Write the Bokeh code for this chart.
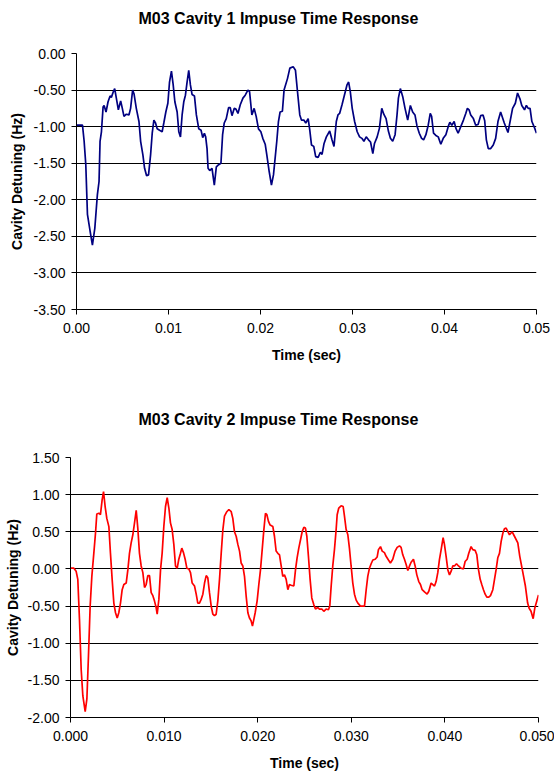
from bokeh.plotting import figure
from bokeh.models import FixedTicker, NumeralTickFormatter, Range1d, Title
from bokeh.embed import file_html
from bokeh.resources import INLINE

FONT = "Liberation Sans"

# ---------------- data ----------------
title1 = "M03 Cavity 1 Impuse Time Response"
title2 = "M03 Cavity 2 Impuse Time Response"
x_label = "Time (sec)"
y_label = "Cavity Detuning (Hz)"

x_ticks = [0.0, 0.01, 0.02, 0.03, 0.04, 0.05]
y_ticks1 = [0.0, -0.5, -1.0, -1.5, -2.0, -2.5, -3.0, -3.5]
y_ticks2 = [1.5, 1.0, 0.5, 0.0, -0.5, -1.0, -1.5, -2.0]

# cavity 1: time (ms), detuning (Hz)
t1_ms = [0, 0.65, 0.83, 1.01, 1.19, 1.48, 1.73, 1.99, 2.27, 2.45, 2.56, 2.71, 2.89, 3.00,
         3.21, 3.43, 3.65, 3.79, 4.01, 4.15, 4.33, 4.55, 4.80, 4.98, 5.16, 5.42, 5.70, 5.88,
         6.10, 6.25, 6.50, 6.79, 6.97, 7.22, 7.40, 7.62, 7.83, 8.05, 8.23, 8.41, 8.59, 8.77,
         9.03, 9.31, 9.49, 9.71, 9.93, 10.11, 10.32, 10.51, 10.69, 10.94, 11.12, 11.30, 11.48,
         11.66, 11.84, 12.02, 12.20, 12.38, 12.56, 12.82, 13.03, 13.29, 13.54, 13.72, 13.90,
         14.04, 14.19, 14.30, 14.48, 14.73, 14.98, 15.20, 15.45, 15.70, 15.88, 16.06, 16.28,
         16.53, 16.71, 16.90, 17.15, 17.33, 17.55, 17.80, 18.09, 18.34, 18.63, 18.81, 19.06,
         19.31, 19.53, 19.78, 20.04, 20.25, 20.51, 20.69, 20.94, 21.19, 21.41, 21.59, 21.77,
         21.95, 22.13, 22.38, 22.56, 22.94, 23.19, 23.55, 23.80, 24.02, 24.27, 24.45, 24.71,
         24.92, 25.18, 25.36, 25.54, 25.79, 26.00, 26.26, 26.51, 26.69, 26.91, 27.16, 27.52,
         27.77, 27.99, 28.24, 28.42, 28.60, 28.86, 29.14, 29.40, 29.58, 29.76, 29.97, 30.23,
         30.51, 30.77, 31.02, 31.24, 31.49, 31.74, 31.96, 32.21, 32.39, 32.68, 32.93, 33.18,
         33.40, 33.65, 33.90, 34.12, 34.37, 34.63, 34.84, 34.99, 35.20, 35.46, 35.71, 36.00,
         36.29, 36.54, 36.79, 37.01, 37.26, 37.51, 37.73, 37.98, 38.23, 38.45, 38.60, 38.81,
         39.06, 39.32, 39.60, 39.86, 40.15, 40.40, 40.58, 40.80, 41.05, 41.23, 41.48, 41.77,
         42.06, 42.31, 42.49, 42.67, 42.85, 43.14, 43.39, 43.65, 43.93, 44.19, 44.37, 44.55,
         44.76, 45.02, 45.30, 45.56, 45.81, 46.10, 46.50, 46.90, 47.40, 47.70, 47.94, 48.20,
         48.40, 48.70, 48.90, 49.10, 49.30, 49.50, 49.80, 50.00]
v1 = [-0.98, -0.98, -1.20, -1.52, -2.20, -2.43, -2.62, -2.39, -1.93, -1.75, -1.20, -1.07, -0.73, -0.71,
      -0.80, -0.66, -0.58, -0.60, -0.52, -0.48, -0.61, -0.77, -0.65, -0.75, -0.86, -0.83, -0.84, -0.75,
      -0.50, -0.55, -0.75, -0.93, -1.20, -1.39, -1.57, -1.67, -1.66, -1.39, -1.09, -0.91, -0.95, -1.03,
      -1.05, -1.07, -0.95, -0.80, -0.68, -0.39, -0.24, -0.43, -0.66, -0.80, -1.07, -1.14, -0.84,
      -0.66, -0.57, -0.39, -0.23, -0.43, -0.56, -0.58, -0.84, -1.03, -1.05, -1.15, -1.09,
      -1.14, -1.30, -1.57, -1.60, -1.57, -1.80, -1.55, -1.52, -1.50, -1.11, -0.95, -0.89,
      -0.74, -0.74, -0.85, -0.75, -0.76, -0.82, -0.70, -0.61, -0.57, -0.50, -0.52, -0.84,
      -0.75, -0.86, -1.03, -1.07, -1.16, -1.24, -1.39, -1.61, -1.80, -1.66, -1.43, -1.20,
      -0.93, -0.80, -0.79, -0.50, -0.34, -0.20, -0.18, -0.23, -0.52, -0.84, -0.91, -0.91,
      -0.95, -0.89, -1.05, -1.25, -1.27, -1.41, -1.42, -1.35, -1.38, -1.23, -1.14, -1.06,
      -1.18, -1.27, -0.93, -0.84, -0.82, -0.70, -0.56, -0.43, -0.39, -0.52, -0.75, -0.93,
      -1.07, -1.14, -1.16, -1.20, -1.14, -1.18, -1.21, -1.37, -1.23, -1.14, -1.02, -0.75,
      -0.83, -0.89, -1.06, -1.16, -1.20, -1.11, -0.84, -0.61, -0.48, -0.59, -0.75, -0.91,
      -0.71, -0.80, -0.84, -0.99, -1.09, -1.16, -1.18, -1.11, -0.98, -0.82, -0.86, -1.09,
      -1.12, -1.14, -1.24, -1.16, -1.11, -1.00, -0.94, -0.98, -0.93, -1.02, -1.09, -1.00,
      -0.91, -0.82, -0.75, -0.77, -0.84, -0.89, -0.98, -0.97, -0.85, -0.84, -0.92, -1.18,
      -1.30, -1.30, -1.25, -1.16, -0.93, -0.80, -0.95, -1.08, -0.75, -0.68, -0.54, -0.62,
      -0.71, -0.77, -0.71, -0.75, -0.75, -0.93, -1.02, -1.09]

# cavity 2: time (ms), detuning (Hz)
t2_ms = [0, 0.36, 0.60, 0.78, 0.96, 1.14, 1.32, 1.57, 1.75, 1.92, 2.10, 2.28, 2.49, 2.67, 2.81,
         3.03, 3.20, 3.38, 3.53, 3.70, 3.88, 4.10, 4.27, 4.45, 4.63, 4.81, 4.99, 5.16, 5.34,
         5.52, 5.70, 5.95, 6.13, 6.30, 6.48, 6.66, 6.84, 7.02, 7.19, 7.37, 7.55, 7.73, 7.91,
         8.08, 8.26, 8.44, 8.62, 8.80, 8.97, 9.15, 9.26, 9.44, 9.62, 9.79, 9.97, 10.15, 10.33,
         10.51, 10.68, 10.86, 11.04, 11.22, 11.40, 11.57, 11.75, 11.89, 12.07, 12.25, 12.43,
         12.64, 12.82, 13.00, 13.25, 13.43, 13.60, 13.78, 13.96, 14.14, 14.32, 14.50, 14.67,
         14.85, 15.03, 15.21, 15.38, 15.56, 15.74, 15.92, 16.10, 16.28, 16.45, 16.70, 16.92,
         17.17, 17.34, 17.52, 17.70, 17.88, 18.06, 18.23, 18.41, 18.59, 18.77, 18.95, 19.12,
         19.30, 19.44, 19.59, 19.73, 19.94, 20.12, 20.30, 20.48, 20.66, 20.83, 20.98, 21.15,
         21.33, 21.62, 21.79, 21.97, 22.15, 22.33, 22.51, 22.68, 22.86, 23.04, 23.22, 23.39,
         23.57, 23.86, 24.04, 24.21, 24.39, 24.57, 24.75, 24.93, 25.10, 25.25, 25.42, 25.60,
         25.78, 25.99, 26.17, 26.42, 26.60, 26.85, 27.06, 27.31, 27.56, 27.70, 27.85, 28.02,
         28.20, 28.38, 28.49, 28.66, 28.91, 29.13, 29.27, 29.45, 29.63, 29.80, 29.98, 30.16,
         30.34, 30.52, 30.70, 30.98, 31.23, 31.41, 31.59, 31.76, 31.94, 32.12, 32.30, 32.55,
         32.76, 32.90, 33.12, 33.30, 33.54, 33.72, 33.97, 34.18, 34.43, 34.68, 34.90, 35.15,
         35.32, 35.50, 35.68, 35.86, 36.04, 36.22, 36.39, 36.64, 36.82, 37.00, 37.21, 37.39,
         37.57, 37.82, 38.10, 38.28, 38.53, 38.71, 38.89, 39.06, 39.24, 39.42, 39.60, 39.81,
         39.95, 40.13, 40.31, 40.49, 40.67, 40.84, 41.02, 41.24, 41.45, 41.73, 41.98, 42.16,
         42.38, 42.55, 42.80, 42.98, 43.23, 43.41, 43.59, 43.77, 43.94, 44.12, 44.30, 44.48,
         44.69, 44.87, 45.12, 45.30, 45.47, 45.65, 45.83, 46.01, 46.19, 46.36, 46.54, 46.90,
         47.19, 47.43, 47.79, 48.00, 48.30, 48.60, 48.84, 49.00, 49.20, 49.43, 49.60, 50.00]
v2 = [0.01, 0.01, -0.03, -0.14, -0.68, -1.35, -1.71, -1.92, -1.75, -1.17, -0.50, -0.10, 0.21, 0.48, 0.74,
      0.75, 0.73, 0.93, 1.04, 0.84, 0.68, 0.57, 0.21, -0.14, -0.46, -0.59, -0.66, -0.59, -0.46,
      -0.28, -0.21, -0.19, -0.01, 0.21, 0.35, 0.46, 0.62, 0.79, 0.55, 0.21, 0.04, -0.05, -0.25,
      -0.21, -0.09, -0.09, -0.32, -0.36, -0.43, -0.52, -0.61, -0.41, -0.01, 0.21, 0.57, 0.84, 0.96,
      0.82, 0.62, 0.53, 0.33, 0.04, 0.01, 0.13, 0.21, 0.28, 0.22, 0.13, 0.01,
      0.00, -0.05, -0.19, -0.23, -0.34, -0.46, -0.46, -0.41, -0.34, -0.19, -0.09, -0.12,
      -0.32, -0.50, -0.61, -0.63, -0.61, -0.43, -0.14, 0.21, 0.53, 0.71, 0.77, 0.80,
      0.77, 0.68, 0.50, 0.44, 0.33, 0.24, 0.08, 0.04, -0.10, -0.37, -0.59, -0.66,
      -0.70, -0.77, -0.68, -0.59, -0.43, -0.21, -0.01, 0.26, 0.53, 0.75, 0.73, 0.64,
      0.59, 0.57, 0.44, 0.24, 0.21, 0.19, 0.04, -0.10, -0.08, -0.14, -0.28, -0.21,
      -0.22, -0.23, -0.01, 0.15, 0.28, 0.39, 0.50, 0.56, 0.55, 0.44, 0.17, -0.14,
      -0.39, -0.48, -0.54, -0.52, -0.54, -0.54, -0.57, -0.54, -0.55, -0.50, -0.23, 0.04,
      0.26, 0.53, 0.73, 0.82, 0.85, 0.84, 0.71, 0.53, 0.46, 0.28, 0.04, -0.19,
      -0.34, -0.42, -0.46, -0.50, -0.50, -0.50, -0.28, -0.10, 0.01, 0.07, 0.12, 0.13,
      0.16, 0.26, 0.30, 0.24, 0.22, 0.17, 0.12, 0.08, 0.13, 0.24, 0.29, 0.31,
      0.29, 0.19, 0.13, 0.06, -0.02, 0.04, 0.09, 0.13, 0.04, -0.08, -0.17, -0.21,
      -0.28, -0.31, -0.34, -0.30, -0.19, -0.21, -0.23, -0.17, -0.05, 0.13, 0.26, 0.42,
      0.33, 0.17, -0.01, -0.08, -0.03, 0.04, 0.04, 0.07, 0.04, 0.01, 0.00, 0.10,
      0.13, 0.21, 0.30, 0.26, 0.25, 0.19, -0.01, -0.14, -0.21, -0.28, -0.34, -0.38,
      -0.38, -0.36, -0.28, -0.14, -0.01, 0.15, 0.21, 0.37, 0.48, 0.54, 0.55, 0.46,
      0.50, 0.44, 0.35, 0.17, -0.03, -0.23, -0.46, -0.53, -0.57, -0.67, -0.53, -0.35]

t1 = [v / 1000.0 for v in t1_ms]
t2 = [v / 1000.0 for v in t2_ms]

PAGE_W = 554
TITLE_LEFT = 138  # left edge of the chart titles on the page


def make_chart(title, t, v, color, y_start, y_end, y_ticks, x_fmt, height,
               left, right, top, frame_h, title_gap, y_label_standoff):
    bottom = height - top - frame_h
    p = figure(width=PAGE_W, height=height, output_backend="svg", toolbar_location=None,
               x_range=Range1d(0, 0.05), y_range=Range1d(y_start, y_end),
               min_border_left=left, min_border_right=right,
               min_border_top=top, min_border_bottom=bottom,
               background_fill_color="white", border_fill_color="white")
    p.outline_line_color = None
    p.line(t, v, line_color=color, line_width=1.7)

    # title, separated from the frame by an empty spacer title
    p.title = Title(text=title, align="left", offset=TITLE_LEFT - left, standoff=0,
                    text_font=FONT, text_font_size="16px", text_font_style="bold",
                    text_color="black")
    p.add_layout(Title(text=" ", text_font_size="8px", standoff=title_gap), "above")

    p.xgrid.visible = False
    p.ygrid.grid_line_color = "black"
    p.ygrid.grid_line_width = 1
    p.ygrid.ticker = FixedTicker(ticks=y_ticks)

    for ax in (p.xaxis[0], p.yaxis[0]):
        ax.axis_line_color = "black"
        ax.major_tick_line_color = "black"
        ax.minor_tick_line_color = None
        ax.major_tick_in = 0
        ax.major_tick_out = 5
        ax.major_label_text_font = FONT
        ax.major_label_text_font_size = "14px"
        ax.major_label_text_color = "black"
        ax.axis_label_text_font = FONT
        ax.axis_label_text_font_size = "14px"
        ax.axis_label_text_font_style = "bold"
        ax.axis_label_text_color = "black"

    p.xaxis.ticker = FixedTicker(ticks=x_ticks)
    p.xaxis.formatter = NumeralTickFormatter(format=x_fmt)
    p.xaxis.axis_label = x_label
    p.xaxis.major_label_standoff = 8
    p.xaxis.axis_label_standoff = 11
    p.yaxis.ticker = FixedTicker(ticks=y_ticks)
    p.yaxis.formatter = NumeralTickFormatter(format="0.00")
    p.yaxis.axis_label = y_label
    p.yaxis.major_label_standoff = 6
    p.yaxis.axis_label_standoff = y_label_standoff
    return p


p1 = make_chart(title1, t1, v1, "#000080", -3.5, 0.0, y_ticks1, "0.00", 385,
                76, 18, 53, 256, 16, 6)
p2 = make_chart(title2, t2, v2, "#FF0000", -2.0, 1.5, y_ticks2, "0.000", 388,
                70, 16, 72, 262, 19, 4)

open("out.html", "w").write(file_html([p1, p2], INLINE))
